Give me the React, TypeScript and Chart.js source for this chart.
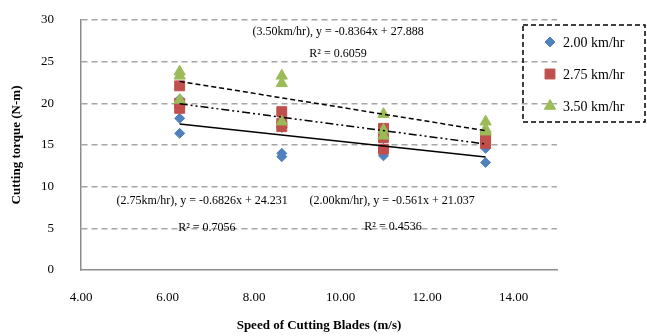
import React, { useEffect, useRef } from 'react';
import { Chart, registerables } from 'chart.js';
import { drawPoint } from 'chart.js/helpers';

Chart.register(...registerables);

// ---- data ----
const speeds = [6.28, 8.64, 10.99, 13.35];
const seriesLabels = ['2.00 km/hr', '2.75 km/hr', '3.50 km/hr'];
const torque200 = [[20.5, 18.2, 16.4], [14.0, 13.6, 17.1], [13.7, 14.6, 16.0], [12.9, 14.6, 15.0]];
const torque275 = [[22.1, 19.4, 20.0], [19.0, 17.2, 17.6], [17.0, 15.9, 14.5], [16.0, 15.2, 15.5]];
const torque350 = [[23.8, 23.3, 20.4], [23.3, 22.4, 17.8], [18.7, 16.8, 16.1], [17.8, 16.6, 16.9]];
const slopes = [-0.561, -0.6826, -0.8364];
const intercepts = [21.037, 24.231, 27.888];
const rSquared = ['0.4536', '0.7056', '0.6059'];
const equationLabels = [
  '(2.00km/hr), y = -0.561x + 21.037',
  '(2.75km/hr), y = -0.6826x + 24.231',
  '(3.50km/hr), y = -0.8364x + 27.888',
];
const xTicks = [4, 6, 8, 10, 12, 14];
const yTicks = [0, 5, 10, 15, 20, 25, 30];

// annotation anchors (in data units)
const equationAnchors = [{ x: 11.19, y: 8.25 }, { x: 6.8, y: 8.25 }, { x: 9.94, y: 28.55 }];
const r2Anchors = [{ x: 11.21, y: 5.2 }, { x: 6.91, y: 5.05 }, { x: 9.94, y: 25.9 }];

const FONT = "'Liberation Serif', 'Times New Roman', serif";
const colors = ['#4F81BD', '#C0504D', '#9BBB59'];
const pointStyles = ['rectRot', 'rect', 'triangle'];
const pointRadii = [5, 7, 6.5];
const trendDashes = [[], [8, 3, 2, 3, 2, 3], [5, 3]];

const toPoints = (vals: number[][]) =>
  vals.flatMap((reps, i) => reps.map((v) => ({ x: speeds[i], y: v })));

const annotationPlugin = {
  id: 'eqAnnotations',
  afterDatasetsDraw(chart: any) {
    const { ctx, scales } = chart;
    ctx.save();
    ctx.font = `12px ${FONT}`;
    ctx.fillStyle = '#000';
    ctx.textAlign = 'center';
    ctx.textBaseline = 'middle';
    equationLabels.forEach((t, i) => {
      const a = equationAnchors[i];
      ctx.fillText(t, scales.x.getPixelForValue(a.x), scales.y.getPixelForValue(a.y));
      const r = r2Anchors[i];
      ctx.fillText(`R\u00B2 = ${rSquared[i]}`, scales.x.getPixelForValue(r.x), scales.y.getPixelForValue(r.y));
    });
    ctx.restore();
  },
};

const legendPlugin = {
  id: 'boxLegend',
  afterDraw(chart: any) {
    const { ctx } = chart;
    const bx = chart.width - 124;
    const by = 25;
    const bw = 122;
    const bh = 97;
    ctx.save();
    ctx.strokeStyle = '#000';
    ctx.lineWidth = 1.5;
    ctx.setLineDash([5, 3]);
    ctx.strokeRect(bx, by, bw, bh);
    ctx.setLineDash([]);
    ctx.font = `14px ${FONT}`;
    ctx.textAlign = 'left';
    ctx.textBaseline = 'middle';
    seriesLabels.forEach((lab, i) => {
      const cy = by + 17 + i * 32;
      ctx.fillStyle = colors[i];
      ctx.strokeStyle = colors[i];
      ctx.lineWidth = 1;
      drawPoint(ctx, { pointStyle: pointStyles[i], radius: pointRadii[i], borderWidth: 1, rotation: 0 } as any, bx + 27, cy);
      ctx.fillStyle = '#000';
      ctx.fillText(lab, bx + 40, cy + 1);
    });
    ctx.restore();
  },
};

export default function App() {
  const ref = useRef<HTMLCanvasElement | null>(null);

  useEffect(() => {
    document.body.style.margin = '0';
    const seriesVals = [torque200, torque275, torque350];
    const scatterSets = seriesVals.map((vals, i) => ({
      type: 'scatter' as const,
      label: seriesLabels[i],
      data: toPoints(vals),
      pointStyle: pointStyles[i],
      pointRadius: pointRadii[i],
      backgroundColor: colors[i],
      borderColor: colors[i],
      borderWidth: 1,
      order: 3 - i,
    }));
    const trendSets = slopes.map((m, i) => ({
      type: 'line' as const,
      label: 'trend ' + seriesLabels[i],
      data: [speeds[0], speeds[speeds.length - 1]].map((x) => ({ x, y: m * x + intercepts[i] })),
      borderColor: '#000',
      borderWidth: 1.5,
      borderDash: trendDashes[i],
      pointRadius: 0,
      showLine: true,
      fill: false,
      order: 0,
    }));

    const chart = new Chart(ref.current as HTMLCanvasElement, {
      type: 'scatter',
      data: { datasets: [...scatterSets, ...trendSets] as any },
      options: {
        animation: false,
        responsive: false,
        devicePixelRatio: 1,
        events: [],
        layout: { padding: { top: 20, right: 90, left: 0, bottom: 0 } },
        plugins: { legend: { display: false }, tooltip: { enabled: false } },
        scales: {
          x: {
            type: 'linear',
            min: 4,
            max: 15,
            afterBuildTicks: (s: any) => {
              s.ticks = xTicks.map((v) => ({ value: v }));
            },
            afterFit: (s: any) => {
              s.height = 66;
              s.paddingLeft = 0;
              s.paddingRight = 0;
              s.paddingTop = 0;
              s.paddingBottom = 0;
            },
            ticks: {
              callback: (v: any) => Number(v).toFixed(2),
              font: { family: FONT, size: 13 },
              color: '#000',
              padding: 20,
              maxRotation: 0,
              autoSkip: false,
            },
            grid: { display: false, drawTicks: false },
            border: { display: true, color: '#8c8c8c', width: 1.5 },
            title: {
              display: true,
              text: 'Speed of Cutting Blades (m/s)',
              font: { family: FONT, size: 13, weight: 'bold' },
              color: '#000',
              padding: { top: 0, bottom: 3 },
            },
          },
          y: {
            type: 'linear',
            min: 0,
            max: 30,
            afterBuildTicks: (s: any) => {
              s.ticks = yTicks.map((v) => ({ value: v }));
            },
            afterFit: (s: any) => {
              s.width = 81;
              s.paddingLeft = 0;
              s.paddingRight = 0;
              s.paddingTop = 0;
              s.paddingBottom = 0;
            },
            ticks: {
              callback: (v: any) => String(v),
              font: { family: FONT, size: 13 },
              color: '#000',
              padding: 27,
            },
            grid: {
              drawTicks: false,
              lineWidth: 1.5,
              color: (c: any) => (c.tick && c.tick.value === 0 ? 'rgba(0,0,0,0)' : '#a6a6a6'),
            },
            border: { display: true, color: '#8c8c8c', width: 1.5, dash: [6, 4] },
            title: {
              display: true,
              text: 'Cutting torque (N-m)',
              font: { family: FONT, size: 13, weight: 'bold' },
              color: '#000',
              padding: { top: 9, bottom: 0 },
            },
          },
        },
      } as any,
      plugins: [annotationPlugin, legendPlugin],
    });
    return () => chart.destroy();
  }, []);

  return (
    <div style={{ width: 647, height: 336, background: '#fff' }}>
      <canvas ref={ref} width={647} height={336} style={{ display: 'block' }} />
    </div>
  );
}
